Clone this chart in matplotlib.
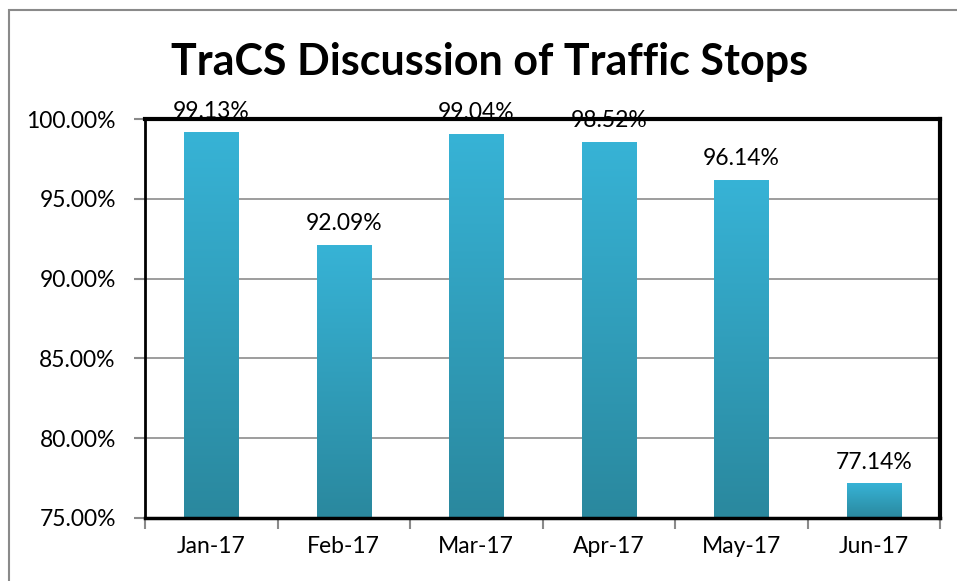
import numpy as np
import matplotlib
matplotlib.use("Agg")
import matplotlib.pyplot as plt
from matplotlib.colors import LinearSegmentedColormap
from matplotlib.patches import Rectangle

plt.rcParams['font.family'] = ['Lato', 'DejaVu Sans']

months = ['Jan-17', 'Feb-17', 'Mar-17', 'Apr-17', 'May-17', 'Jun-17']
values = [99.13, 92.09, 99.04, 98.52, 96.14, 77.14]
y_ticks = [75, 80, 85, 90, 95, 100]
base = 75

fig = plt.figure(figsize=(9.57, 5.81), dpi=100)
ax = fig.add_axes([145 / 957, 1 - 518 / 581, (940 - 145) / 957, (518 - 119) / 581])

# outer chart border (gray, only left and top visible in the picture)
fig.patches.append(Rectangle((9 / 957, -0.2), 1.2, 1.2 - 10 / 581,
                             transform=fig.transFigure, fill=False,
                             edgecolor='#8a8a8a', linewidth=1.5))

x = np.arange(len(months))
bars = ax.bar(x, [v - base for v in values], bottom=base, width=0.41,
              color='none', zorder=3)

# vertical gradient inside each bar
cmap = LinearSegmentedColormap.from_list('bar', ['#2a889e', '#37b3d6'])
grad = np.linspace(1, 0, 256)[:, None]
for b in bars:
    x0 = b.get_x()
    ax.imshow(grad, extent=[x0, x0 + b.get_width(), base, base + b.get_height()],
              origin='upper', aspect='auto', cmap=cmap, vmin=0, vmax=1, zorder=3)

for xi, v in zip(x, values):
    ax.annotate(f'{v:.2f}%', (xi, v), xytext=(0, 11), textcoords='offset points',
                ha='center', va='baseline', fontsize=16.5, zorder=5)

ax.set_xlim(-0.5, len(months) - 0.5)
ax.set_ylim(75, 100)
ax.set_yticks(y_ticks)
ax.set_yticklabels([f'{t:.2f}%' for t in y_ticks], fontsize=16.5)
ax.set_xticks(x)
ax.set_xticklabels(months, fontsize=16.5)
ax.tick_params(axis='x', length=0, pad=13)
ax.set_xticks(np.arange(-0.5, len(months)), minor=True)
ax.tick_params(axis='x', which='minor', length=8, color='#8a8a8a', width=1.5)
ax.tick_params(axis='y', length=8, color='#8a8a8a', width=1.5, pad=13)

ax.yaxis.grid(True, color='#8c8c8c', linewidth=1.2, zorder=0)
ax.set_axisbelow(True)
for side in ['top', 'right']:
    ax.spines[side].set_linewidth(3)
ax.spines['left'].set_linewidth(2)
ax.spines['bottom'].set_linewidth(2.5)
for s in ax.spines.values():
    s.set_color('black')
    s.set_zorder(4)

fig.text(0.512, 1 - 62 / 581, 'TraCS Discussion of Traffic Stops', ha='center', va='center',
         fontsize=31, fontweight='bold')

fig.savefig('out.png', dpi=100)
